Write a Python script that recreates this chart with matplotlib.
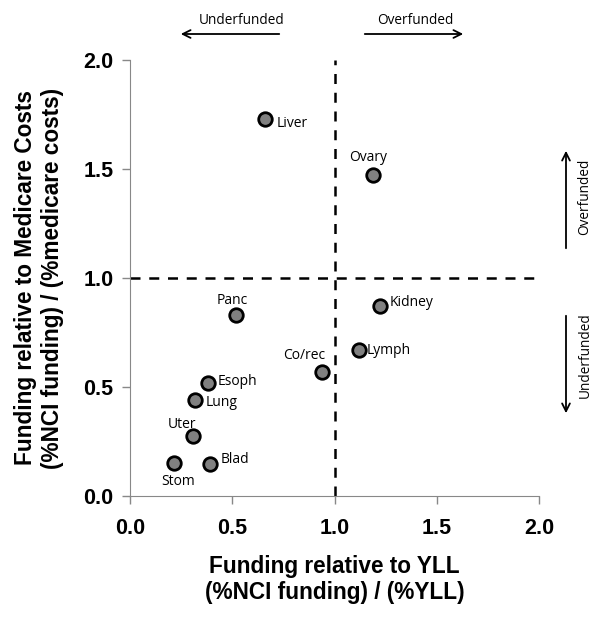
import matplotlib.pyplot as plt

# data
cancers = ['Liver', 'Ovary', 'Kidney', 'Lymph', 'Co/rec', 'Panc',
           'Esoph', 'Lung', 'Uter', 'Stom', 'Blad']
yll_ratio = [0.66, 1.19, 1.22, 1.12, 0.94, 0.52, 0.38, 0.32, 0.31, 0.215, 0.39]
medicare_ratio = [1.73, 1.47, 0.87, 0.67, 0.57, 0.83, 0.52, 0.44, 0.275, 0.15, 0.147]

# label offsets in pixels (dx, dy, ha)
offsets = {
    'Liver': (12, -5, 'left'), 'Ovary': (-5, 18, 'center'),
    'Kidney': (10, 4, 'left'), 'Lymph': (8, -1, 'left'),
    'Co/rec': (-18, 16, 'center'), 'Panc': (-4, 15, 'center'),
    'Esoph': (10, 1, 'left'), 'Lung': (10, -2, 'left'),
    'Uter': (-11, 12, 'center'), 'Stom': (4, -18, 'center'),
    'Blad': (11, 5, 'left'),
}

plt.rcParams['font.family'] = ['Liberation Sans', 'DejaVu Sans']
lab_font = 'Open Sans'

fig = plt.figure(figsize=(6, 6.17), dpi=100)
ax = fig.add_axes([0.2167, 0.196, 0.6817, 0.707])

ax.axvline(1.0, color='black', ls=(0, (4, 3.5)), lw=1.8, zorder=1)
ax.axhline(1.0, color='black', ls=(0, (4, 3.5)), lw=1.8, zorder=1)
ax.scatter(yll_ratio, medicare_ratio, s=95, c='#808080', edgecolors='black',
           linewidths=2, zorder=3, clip_on=False)

for name, x, y in zip(cancers, yll_ratio, medicare_ratio):
    dx, dy, ha = offsets[name]
    ax.annotate(name, (x, y), xytext=(dx, dy), textcoords='offset pixels',
                ha=ha, va='center', fontsize=10, family=lab_font)

ax.set_xlim(0, 2.0)
ax.set_ylim(0, 2.0)
ticks = [0, 0.5, 1.0, 1.5, 2.0]
tick_labels = ['0.0', '0.5', '1.0', '1.5', '2.0']
ax.set_xticks(ticks)
ax.set_yticks(ticks)
ax.set_xticklabels(tick_labels, fontsize=15.5, fontweight='bold')
ax.set_yticklabels(tick_labels, fontsize=15.5, fontweight='bold')
ax.tick_params(direction='out', length=6, color='#888888', width=1, pad=10)
ax.tick_params(axis='y', pad=6)
for s in ['top', 'right']:
    ax.spines[s].set_visible(False)
for s in ['left', 'bottom']:
    ax.spines[s].set_color('#888888')

ax.set_xlabel('Funding relative to YLL\n(%NCI funding) / (%YLL)',
              fontsize=16.3, fontweight='bold', labelpad=11)
ax.set_ylabel('Funding relative to Medicare Costs\n(%NCI funding) / (%medicare costs)',
              fontsize=16.3, fontweight='bold', labelpad=14)

# direction arrows
arr = dict(arrowstyle='->', color='black', lw=1.3, mutation_scale=14)
ax.annotate('', xy=(178 / 600, 1 - 34 / 617), xytext=(282 / 600, 1 - 34 / 617),
            xycoords='figure fraction', arrowprops=arr)
ax.annotate('', xy=(466 / 600, 1 - 34 / 617), xytext=(362 / 600, 1 - 34 / 617),
            xycoords='figure fraction', arrowprops=arr)
fig.text(242 / 600, 1 - 20 / 617, 'Underfunded', ha='center', va='center',
         fontsize=9.8, family=lab_font)
fig.text(415 / 600, 1 - 20 / 617, 'Overfunded', ha='center', va='center',
         fontsize=9.8, family=lab_font)
ax.annotate('', xy=(566 / 600, 1 - 148 / 617), xytext=(566 / 600, 1 - 251 / 617),
            xycoords='figure fraction', arrowprops=arr)
ax.annotate('', xy=(566 / 600, 1 - 416 / 617), xytext=(566 / 600, 1 - 313 / 617),
            xycoords='figure fraction', arrowprops=arr)
fig.text(585 / 600, 1 - 197 / 617, 'Overfunded', ha='center', va='center',
         rotation=90, fontsize=9.8, family=lab_font)
fig.text(585 / 600, 1 - 355 / 617, 'Underfunded', ha='center', va='center',
         rotation=90, fontsize=9.8, family=lab_font)

fig.savefig('out.png', dpi=100)
